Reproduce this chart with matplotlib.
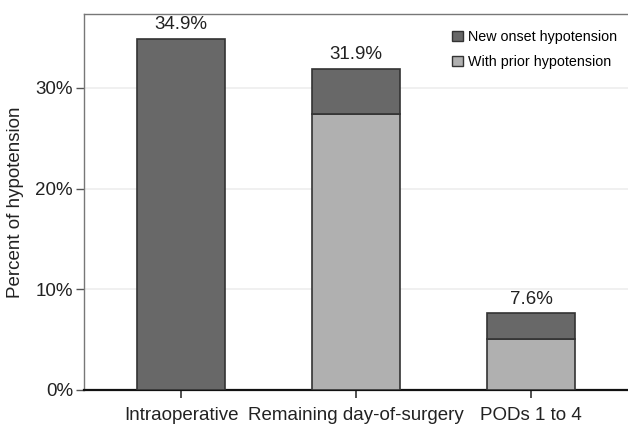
import matplotlib
matplotlib.use("Agg")
import matplotlib.pyplot as plt
from matplotlib.patches import Patch

plt.rcParams['font.family'] = ['Liberation Sans', 'DejaVu Sans']

categories = ["Intraoperative", "Remaining day-of-surgery", "PODs 1 to 4"]
prior = [0.0, 27.4, 5.1]
new_onset = [34.9, 4.5, 2.5]
totals = [34.9, 31.9, 7.6]
total_labels = ["34.9%", "31.9%", "7.6%"]
yticks = [0, 10, 20, 30]
ytick_labels = ["0%", "10%", "20%", "30%"]

dark = "#686868"
light = "#b0b0b0"
edge = "#333333"
txt = "#222222"

fig = plt.figure(figsize=(6.28, 4.24), dpi=100)
left_px, right_px, top_px, bot_px = 84, 640, 14, 390
ax = fig.add_axes([left_px/628, 1-bot_px/424, (right_px-left_px)/628, (bot_px-top_px)/424])

x = list(range(len(categories)))
ax.bar(x, prior, width=0.5, color=light, edgecolor=edge, linewidth=1.2, zorder=3)
ax.bar(x, new_onset, bottom=prior, width=0.5, color=dark, edgecolor=edge, linewidth=1.2, zorder=3)

for xi, t, lab in zip(x, totals, total_labels):
    ax.annotate(lab, (xi, t), xytext=(0, 4), textcoords='offset points',
                ha='center', va='bottom', fontsize=13.5, color=txt)

# bar centers at 181, 356, 531 px; spacing 175 px
ax.set_xlim((left_px-181)/175, (right_px-181)/175)
ax.set_ylim(0, (bot_px-top_px)/10.07)
ax.set_yticks(yticks)
ax.set_yticklabels(ytick_labels, fontsize=13.5, color=txt)
ax.set_xticks(x)
ax.set_xticklabels(categories, fontsize=13.5, color=txt)
ax.set_ylabel("Percent of hypotension", fontsize=13.5, color=txt, labelpad=8)

ax.yaxis.grid(True, color='#eeeeee', linewidth=1.2, zorder=0)
ax.set_axisbelow(True)

for s in ['left', 'top', 'right']:
    ax.spines[s].set_color('#777777')
    ax.spines[s].set_linewidth(1.0)
ax.spines['bottom'].set_color('#111111')
ax.spines['bottom'].set_linewidth(1.6)
ax.tick_params(axis='x', length=6, width=1.2, color='#333333', pad=6)
ax.tick_params(axis='y', length=6, width=1.0, color='#555555', pad=2)

handles = [Patch(facecolor=dark, edgecolor=edge, label="New onset hypotension"),
           Patch(facecolor=light, edgecolor=edge, label="With prior hypotension")]
leg = fig.legend(handles=handles, loc='upper left', bbox_to_anchor=(452/628, 1-30/424),
                 frameon=False, fontsize=10.3, handlelength=0.75, handleheight=0.75,
                 handletextpad=0.4, labelspacing=0.75, borderaxespad=0, borderpad=0)

fig.savefig("out.png", dpi=100)
